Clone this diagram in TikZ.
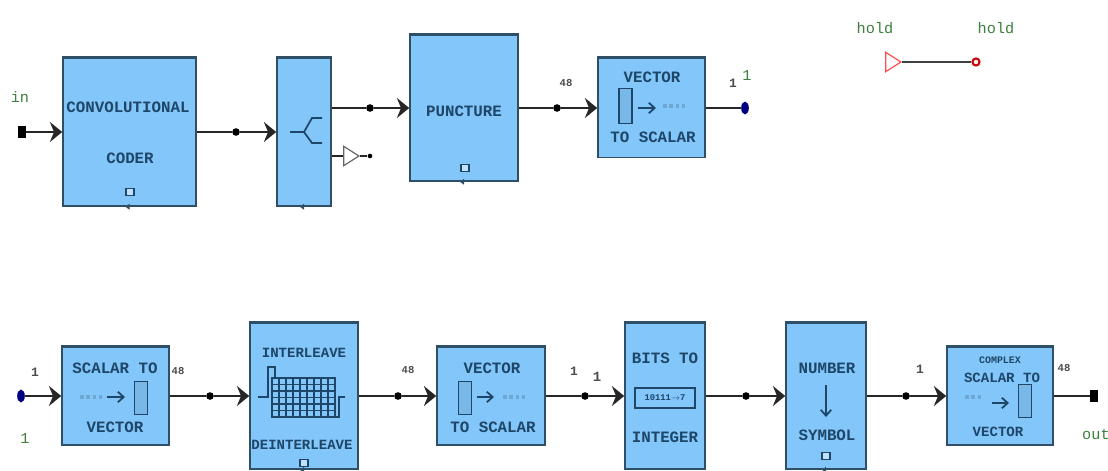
\documentclass[tikz,border=0pt]{standalone}
\usepackage{fontspec}
\setmonofont{Liberation Mono}
\usetikzlibrary{arrows.meta,shapes.geometric}
\definecolor{blockfill}{HTML}{82C6FA}
\definecolor{blockline}{HTML}{2F4F66}
\definecolor{blockink}{HTML}{1D4668}
\definecolor{labelgreen}{HTML}{3E7F3E}
\tikzset{
	blockbox/.style={draw=blockline, fill=blockfill, line width=1.3pt, inner sep=0pt},
	blocktext/.style={text=blockink, inner sep=0pt, font=\ttfamily\bfseries\fontsize{13.5}{14}\selectfont},
	smalltext/.style={blocktext, font=\ttfamily\bfseries\fontsize{12}{13}\selectfont},
	tinytext/.style={blocktext, font=\ttfamily\bfseries\fontsize{8.5}{9}\selectfont},
	sizetext/.style={text=black!70, inner sep=0pt, font=\ttfamily\bfseries\fontsize{9}{10}\selectfont},
	greentext/.style={text=labelgreen, inner sep=0pt, font=\ttfamily\fontsize{13}{14}\selectfont},
	junction/.style={circle, fill=black, minimum size=6.5pt, inner sep=0pt},
	terminal/.style={rectangle, fill=black, minimum width=6pt, minimum height=10pt, inner sep=0pt},
	bluedot/.style={ellipse, fill=blue!50!black, minimum width=6.5pt, minimum height=11pt, inner sep=0pt},
	sig/.style={line width=1.8pt, black!85},
	sigarrow/.style={sig, -{Stealth[length=10.5pt,width=17pt,inset=3.5pt]}},
	vecmark/.style={draw=blockink, fill=blockline!12!blockfill, line width=1pt, minimum width=11pt, inner sep=0pt},
	iconline/.style={draw=blockink, line width=1.2pt},
	iconarrow/.style={iconline, line width=1.5pt, -{Straight Barb[length=5pt,width=9pt]}},
	faintdots/.style={draw=blockline!25!blockfill, line width=3pt, dash pattern=on 3pt off 2.5pt},
	portmark/.style={draw=blockink, fill=blockfill!50!white, line width=1.2pt, minimum width=7pt, minimum height=6pt, inner sep=0pt},
	holdmark/.style={isosceles triangle, isosceles triangle apex angle=65, draw, fill=white, minimum size=13pt, inner sep=0pt, line width=1pt}
}
\begin{document}
\begin{tikzpicture}[x=0.03cm, y=-0.03cm]

	\useasboundingbox (0, 0) rectangle (1108, 471);

	% first row
	\node[blockbox, minimum width=3.99cm, minimum height=4.44cm] (conv) at (129.5, 132) {};
	\node[blockbox, minimum width=1.62cm, minimum height=4.44cm] (split) at (304, 132) {};
	\node[blockbox, minimum width=3.24cm, minimum height=4.38cm] (punct) at (464, 108) {};
	\node[blockbox, minimum width=3.21cm, minimum height=2.97cm] (tosca) at (651.5, 108) {};

	% second row
	\node[blockbox, minimum width=3.21cm, minimum height=2.94cm] (tovec) at (115.5, 396) {};
	\node[blockbox, minimum width=3.24cm, minimum height=4.38cm] (inter) at (304, 396) {};
	\node[blockbox, minimum width=3.24cm, minimum height=2.94cm] (toscb) at (491, 396) {};
	\node[blockbox, minimum width=2.4cm, minimum height=4.38cm] (bits) at (665, 396) {};
	\node[blockbox, minimum width=2.4cm, minimum height=4.38cm] (numb) at (826, 396) {};
	\node[blockbox, minimum width=3.18cm, minimum height=2.94cm] (cplx) at (1000, 396) {};

	\foreach \b in {conv, split, punct, tosca, tovec, inter, toscb, bits, numb, cplx}
		\draw[blockline, line width=2.2pt] (\b.north west) -- (\b.north east);

	% end points and junctions
	\node[terminal] (in) at (22, 132) {};
	\node[junction] (j1) at (236, 132) {};
	\node[junction] (j2) at (370, 108) {};
	\node[junction] (j3) at (557, 108) {};
	\node[bluedot] (link1) at (745, 108) {};
	\node[bluedot] (link2) at (21, 396) {};
	\node[junction] (j4) at (210, 396) {};
	\node[junction] (j5) at (398, 396) {};
	\node[junction] (j6) at (585, 396) {};
	\node[junction] (j7) at (746, 396) {};
	\node[junction] (j8) at (906, 396) {};
	\node[terminal] (out) at (1094, 396) {};
	\node[junction, minimum size=4pt] (stub) at (370, 156) {};

	\node[holdmark, draw=black!60] (buf) at (349, 156) {};
	\node[holdmark, draw=red!70!white] (holdin) at (891, 62) {};
	\node[circle, draw=red!80!black, line width=1.8pt, fill=white, minimum size=6pt, inner sep=0pt] (holdout) at (976, 62) {};

	\foreach \a/\b in {in/conv, j1/split, j2/punct, j3/tosca, link2/tovec, j4/inter, j5/toscb, j6/bits, j7/numb, j8/cplx}
		\draw[sigarrow] (\a) -- (\b);
	\foreach \a/\b in {conv/j1, tosca/link1, punct/j3, tovec/j4, inter/j5, toscb/j6, bits/j7, numb/j8, cplx/out}
		\draw[sig] (\a) -- (\b);
	\draw[sig] (split.east |- j2) -- (j2);
	\draw[sig] (split.east |- buf) -- (buf.west);
	\draw[sig] (buf.apex) -- (stub);
	\draw[sig, black!75] (holdin.apex) -- (holdout);

	% block texts
	\node[blocktext] (t1) at (128, 107) {CONVOLUTIONAL};
	\node[blocktext] (t2) at (130, 158) {CODER};
	\node[blocktext] (t3) at (464, 111) {PUNCTURE};
	\node[blocktext] (t4) at (652, 77) {VECTOR};
	\node[blocktext] (t5) at (653, 137) {TO SCALAR};
	\node[blocktext] (t6) at (115, 368) {SCALAR TO};
	\node[blocktext] (t7) at (115, 427) {VECTOR};
	\node[smalltext] (t8) at (304, 353) {INTERLEAVE};
	\node[smalltext] (t9) at (302, 445) {DEINTERLEAVE};
	\node[blocktext] (t10) at (492, 368) {VECTOR};
	\node[blocktext] (t11) at (493, 427) {TO SCALAR};
	\node[blocktext] (t12) at (665, 358) {BITS TO};
	\node[blocktext] (t13) at (665, 437) {INTEGER};
	\node[blocktext] (t14) at (827, 368) {NUMBER};
	\node[blocktext] (t15) at (827, 435) {SYMBOL};
	\node[tinytext] (t16) at (1000, 360) {COMPLEX};
	\node[smalltext] (t17) at (1002, 378) {SCALAR TO};
	\node[smalltext] (t18) at (998, 432) {VECTOR};

	% fork icon
	\coordinate (f0) at (290, 132);
	\coordinate (f1) at (304, 132);
	\coordinate (f2) at (322, 118);
	\coordinate (f3) at (322, 143);
	\draw[iconline, line width=1.5pt] (f0) -- (f1) -- (312, 118) -- (f2);
	\draw[iconline, line width=1.5pt] (f1) -- (312, 143) -- (f3);

	% vector icons
	\node[vecmark, minimum height=1.05cm] (v1) at (625.5, 106) {};
	\node[vecmark, minimum height=1cm] (v2) at (141, 398) {};
	\node[vecmark, minimum height=1cm] (v3) at (465, 398) {};
	\node[vecmark, minimum height=1cm] (v4) at (1025, 401) {};
	\draw[iconarrow] (638, 108) -- (656, 108);
	\draw[iconarrow] (107, 397) -- (125, 397);
	\draw[iconarrow] (477, 397) -- (494, 397);
	\draw[iconarrow] (992, 403) -- (1009, 403);
	\draw[faintdots] (663, 106) -- (685, 106);
	\draw[faintdots] (80, 397) -- (102, 397);
	\draw[faintdots] (503, 397) -- (525, 397);
	\draw[faintdots] (965, 397) -- (983, 397);

	% interleaver icon
	\draw[blockink, line width=1.4pt] (272, 378) rectangle (335, 417);
	\foreach \x in {279, 286, ..., 328}
		\draw[blockink, line width=1.4pt] (\x, 378) -- (\x, 417);
	\foreach \y in {384.5, 391, ..., 411}
		\draw[blockink, line width=1.4pt] (272, \y) -- (335, \y);
	\draw[iconline] (258, 397) -- (268, 397) -- (268, 367) -- (275, 367) -- (275, 378);
	\draw[iconline] (335, 417) -- (339, 417) -- (339, 397) -- (345, 397);

	% integer icon
	\node[draw=blockink, line width=1.8pt, minimum width=1.82cm, minimum height=0.62cm, inner sep=0pt, text=blockink, font=\ttfamily\bfseries\fontsize{7.5}{8}\selectfont] (b1) at (665, 398) {10111$\rightarrow$7};

	% symbol icon
	\draw[iconarrow] (826, 385) -- (826, 417);

	% parameter marks
	\node[portmark] (p1) at (130, 192) {};
	\node[portmark] (p2) at (465, 168) {};
	\node[portmark] (p3) at (826, 456) {};
	\node[portmark] (p4) at (304, 463) {};
	\foreach \p in {conv, split, punct, numb, inter}
		\fill[blockline] ([xshift=-3.5pt]\p.south) -- ++(3.5pt, -2.5pt) -- ++(0, 5pt) -- cycle;

	% labels
	\node[greentext] (l1) at (20, 97) {in};
	\node[greentext] (l2) at (747, 75) {1};
	\node[greentext] (l3) at (25, 438) {1};
	\node[greentext, anchor=west] (l4) at (1082, 434) {out};
	\node[greentext] (l5) at (875, 28) {hold};
	\node[greentext] (l6) at (996, 28) {hold};
	\node[sizetext] (s1) at (566, 83) {48};
	\node[sizetext, font=\ttfamily\bfseries\fontsize{11}{12}\selectfont] (s2) at (733, 83) {1};
	\node[sizetext, font=\ttfamily\bfseries\fontsize{11}{12}\selectfont] (s3) at (35, 372) {1};
	\node[sizetext] (s4) at (178, 371) {48};
	\node[sizetext] (s5) at (408, 370) {48};
	\node[sizetext, font=\ttfamily\bfseries\fontsize{11}{12}\selectfont] (s6) at (574, 371) {1};
	\node[sizetext, font=\ttfamily\bfseries\fontsize{12}{13}\selectfont] (s7) at (597, 377) {1};
	\node[sizetext, font=\ttfamily\bfseries\fontsize{11}{12}\selectfont] (s8) at (920, 369) {1};
	\node[sizetext] (s9) at (1064, 368) {48};

\end{tikzpicture}
\end{document}
